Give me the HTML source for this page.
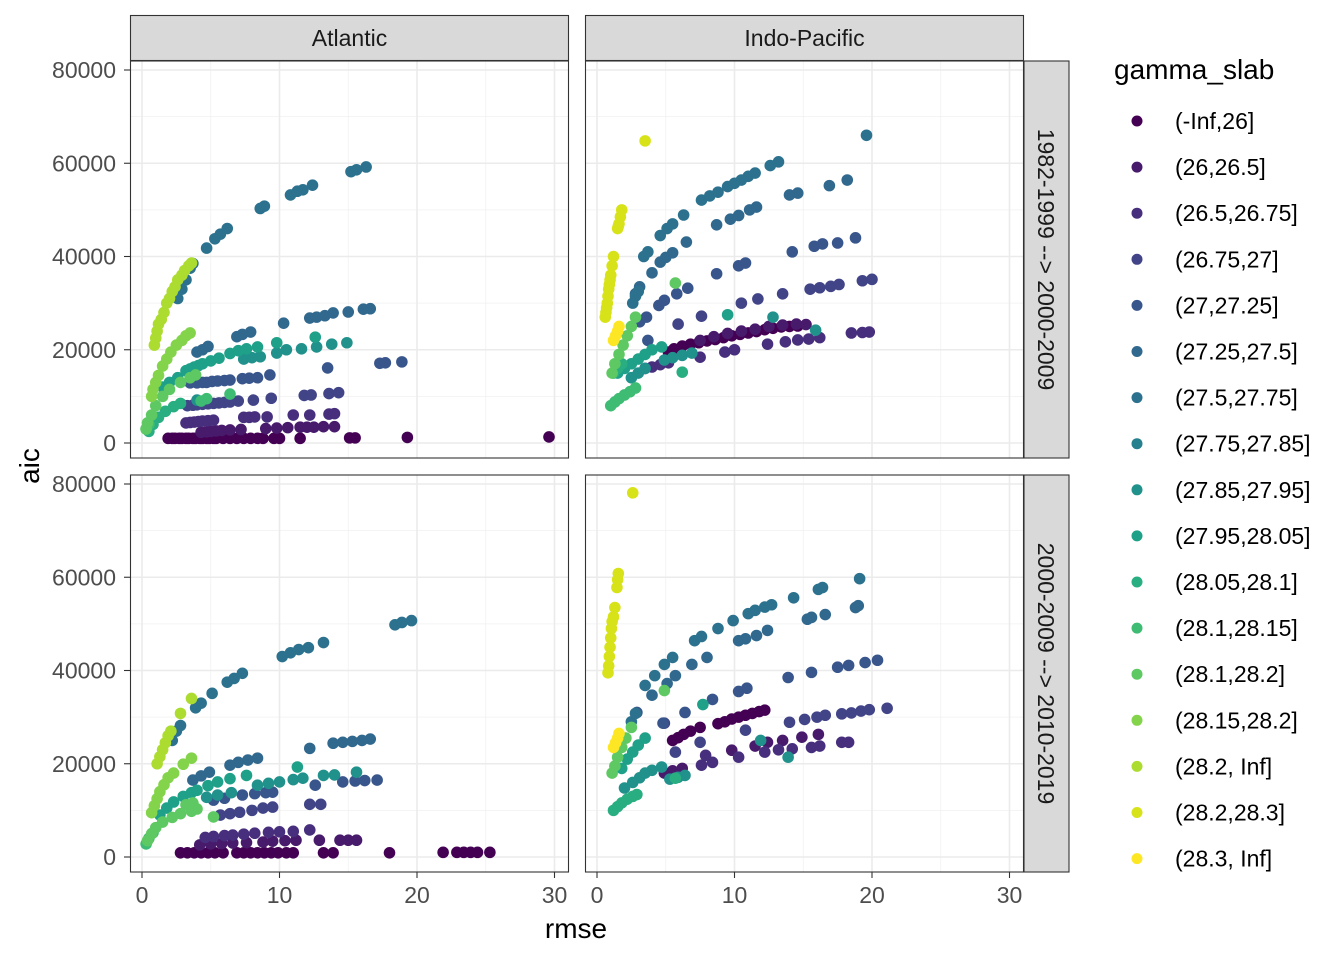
<!DOCTYPE html>
<html><head><meta charset="utf-8"><style>
html,body{margin:0;padding:0;background:#fff;}
svg{display:block;font-family:"Liberation Sans",Arial,sans-serif;}
</style></head><body>
<svg id="chart" width="1344" height="960" viewBox="0 0 1344 960" xmlns="http://www.w3.org/2000/svg">
<rect width="1344" height="960" fill="#fff"/>
<g id="panels"></g>
<g id="legend"></g>
<text x="576" y="938" text-anchor="middle" font-size="28" fill="#000">rmse</text>
<text transform="translate(39,466) rotate(-90)" text-anchor="middle" font-size="28" fill="#000">aic</text>
</svg>
<script>
const groupLabels = ["(-Inf,26]","(26,26.5]","(26.5,26.75]","(26.75,27]","(27,27.25]","(27.25,27.5]","(27.5,27.75]","(27.75,27.85]","(27.85,27.95]","(27.95,28.05]","(28.05,28.1]","(28.1,28.15]","(28.1,28.2]","(28.15,28.2]","(28.2, Inf]","(28.2,28.3]","(28.3, Inf]"];
const groupColors = ["#440154","#481A6C","#472F7D","#414487","#39568C","#31688E","#2C728E","#26808E","#21918C","#1FA088","#28AE80","#3FBC73","#5EC962","#84D44B","#ADDC30","#D8E219","#FDE725"];
const xTicks = [0,10,20,30];
const yTicks = [0,20000,40000,60000,80000];
const yTickLabels = ["0","20000","40000","60000","80000"];
const colFacets = ["Atlantic","Indo-Pacific"];
const rowFacets = ["1982-1999 --> 2000-2009","2000-2009 --> 2010-2019"];
// points: [rmse, aic in thousands]
const atl1 = [
[0,[[1.9,1],[2.2,1],[2.4,1],[2.7,1],[2.9,1],[3.2,1],[3.4,1],[3.7,1],[3.9,1],[4.2,1],[4.4,1],[4.7,1],[4.9,1],[5.2,1],[5.4,1],[5.9,1],[6.4,1],[6.9,1],[7.4,1],[7.9,1],[8.4,1],[8.8,1],[9.6,1],[10,1],[11.5,1],[15.1,1.1],[15.5,1.1],[19.3,1.2],[29.6,1.3]]],
[1,[[4.3,2.3],[4.7,2.4],[5,2.5],[5.4,2.6],[5.8,2.7],[6.4,2.8],[7.2,2.9],[9,3.1],[9.8,3.2],[10.6,3.3],[11.5,3.4],[12,3.4],[12.5,3.4],[13.2,3.5],[14,3.5]]],
[2,[[3.2,4.3],[3.5,4.4],[3.8,4.5],[4.1,4.6],[4.4,4.7],[4.8,4.8],[5.2,4.9],[7.4,5.5],[7.8,5.5],[8.2,5.6],[9.1,5.6],[11,6],[12.2,6],[13.6,6.2],[14,6.3]]],
[3,[[3.3,8],[3.7,8.1],[4,8.2],[4.4,8.3],[4.8,8.4],[5.2,8.5],[5.6,8.6],[6,8.7],[6.4,8.8],[7,9],[8.1,9.2],[9.4,9.6],[11.8,10.2],[12.3,10.3],[13.6,10.6],[14.3,10.8]]],
[4,[[3.5,12.9],[4,12.9],[4.4,13],[4.7,13],[5.1,13.2],[5.5,13.3],[6,13.4],[6.4,13.5],[7.3,13.8],[7.8,13.9],[8.4,14],[9.3,14.6],[13.5,16.1],[17.3,17.1],[17.7,17.2],[18.9,17.4]]],
[5,[[4,19.5],[4.4,20],[4.8,20.7],[6.9,22.8],[7.3,23.3],[7.9,23.8],[10.3,25.7],[12.2,26.8],[12.7,27],[13.3,27.3],[13.9,27.9],[15,28.1],[16.1,28.7],[16.6,28.8]]],
[6,[[2.6,31],[2.9,33],[3.2,35],[3.5,37.5],[3.7,38.5],[4.7,41.8],[5.3,43.8],[5.7,44.8],[6.2,46],[8.6,50.3],[8.9,50.8],[10.8,53.2],[11.3,54],[11.7,54.3],[12.4,55.3],[15.2,58.2],[15.6,58.6],[16.3,59.2]]],
[8,[[4,9.2],[7.4,18],[8,18.3],[8.6,18.5],[9.8,19.3],[10.5,20],[11.6,20.2],[12.7,20.6],[13.8,21.2],[14.9,21.5]]],
[9,[[1.5,12],[2,13],[2.6,14],[3.2,15.5],[3.5,15.9],[3.8,16.3],[4.1,16.6],[4.4,17],[5,17.6],[5.6,18.2],[6.4,19.2],[7,19.8],[7.6,20.2],[8.4,20.6],[9.8,21.5],[12.6,22.7]]],
[10,[[0.5,2.5],[0.8,4],[1.2,5.5],[1.7,6.8],[2.3,7.8],[2.8,8.5]]],
[11,[[0.3,3],[0.5,4],[4.3,9],[4.7,9.5],[6.4,10.5]]],
[12,[[0.3,3],[0.4,4.3],[0.7,6],[1,8],[1.5,10],[2,11.5],[2.8,13],[3.5,14],[3.9,14.6]]],
[13,[[0.7,10],[0.8,11.5],[1,13],[1.2,14.5],[1.5,16.5],[1.8,18],[2.1,19.5],[2.5,21],[2.9,22],[3.2,23],[3.5,23.6]]],
[14,[[0.9,21],[1,22.5],[1.1,24],[1.2,25.5],[1.4,26.5],[1.6,28],[1.8,30],[2,31],[2.2,32.5],[2.4,33.5],[2.6,35],[2.9,36],[3.1,37],[3.4,38],[3.6,38.6]]]
];
const ind1 = [
[0,[[5.2,19.5],[5.6,20.2],[6.2,20.8],[6.8,21.2],[7.4,21.5],[8,21.9],[8.6,22.2],[9.2,22.6],[9.8,23],[10.4,23.3],[11,23.6],[11.6,23.9],[12.2,24.3],[12.8,24.6],[13.4,24.9],[14,25],[14.6,25.1]]],
[1,[[7.5,22],[8.5,22.8],[9.5,23.5],[10.5,24],[11.5,24.4],[12.5,25],[13.5,25.3],[14.5,25.5],[15.2,25.4]]],
[2,[[3.5,16],[4,16.3],[4.6,16.8],[5.2,17.2],[7.5,18.4],[9.3,19.5],[10,20],[12.4,21.2],[13.7,21.7],[14.6,22.1],[15.4,22.3],[16.2,22.6],[18.5,23.6],[19.3,23.7],[19.8,23.8]]],
[3,[[5.9,25.5],[7.6,27.2],[10.5,30],[11.7,30.9],[13.5,32],[15.5,33],[16.2,33.3],[17,33.6],[17.6,34],[19.3,34.8],[20,35.1]]],
[4,[[3.7,22],[3.1,26],[3.6,27],[4.5,29.5],[4.9,30.6],[5.8,32],[6.6,33.2],[8.7,36.3],[10.3,38],[10.8,38.6],[14.2,41],[15.8,42.2],[16.4,42.7],[17.5,42.9],[18.8,44]]],
[5,[[2.8,32],[3.1,33.5],[4,36.5],[4.6,38.8],[5,39.8],[5.5,40.8],[6.5,43.1],[8.7,46.8],[9.7,48],[10.3,48.8],[11.1,50],[11.6,50.6],[14,53.2],[14.6,53.6],[16.9,55.2],[18.2,56.4]]],
[6,[[2.6,30],[2.8,31.5],[3,32.5],[3.4,40],[3.7,41],[4.6,44.5],[5.1,46],[5.5,47],[6.3,48.9],[7.6,52.1],[8.2,53],[8.8,53.8],[9.5,55],[10,55.7],[10.5,56.4],[11,57.2],[11.5,57.9],[12.6,59.5],[13.2,60.3],[19.6,66]]],
[8,[[2.5,14],[3,15],[3.5,16],[4.9,17.8],[5.5,18.3],[6.2,18.8],[6.9,19.3],[12.8,27],[15.9,24.2]]],
[9,[[1.5,15],[2,16],[2.5,17],[3,18],[3.5,19],[4,20],[4.7,20.6],[9.5,27.5]]],
[10,[[1.2,15],[1.5,16],[1.8,17],[6.2,15.2]]],
[11,[[1,8],[1.3,8.8],[1.6,9.5],[2,10.3],[2.4,11],[2.8,11.8]]],
[12,[[1.1,15],[1.3,17],[1.6,19],[1.9,21],[2.2,23],[2.5,25],[2.8,27],[5.7,34.3]]],
[15,[[0.6,27],[0.65,28],[0.7,29],[0.75,30],[0.8,31.5],[0.85,33],[0.9,34],[0.95,35],[1,36],[1.1,38],[1.2,40],[1.5,46],[1.55,46.5],[1.6,47],[1.7,48.5],[1.8,50],[3.5,64.8]]],
[16,[[1.2,22],[1.35,23],[1.5,24],[1.6,25]]]
];
const atl2 = [
[0,[[2.8,0.9],[3.3,0.9],[3.8,0.9],[4.3,0.9],[4.8,0.9],[5.3,0.9],[5.9,0.9],[6.9,0.9],[7.4,0.9],[7.9,0.9],[8.4,0.9],[8.9,0.9],[9.4,0.9],[9.9,0.9],[10.5,0.9],[11,0.9],[13.2,0.9],[13.9,0.9],[18,0.9],[21.9,1],[22.9,1],[23.4,1],[23.9,1],[24.4,1],[25.3,1]]],
[1,[[4.2,2.6],[5,2.8],[5.8,2.9],[6.6,3],[7.6,3.1],[8.8,3.2],[9.5,3.4],[10.4,3.5],[11.2,3.6],[12.9,3.6],[14.4,3.6],[15,3.6],[15.6,3.6]]],
[2,[[4.6,4.2],[5.2,4.4],[6,4.6],[6.6,4.7],[7.4,4.9],[8.2,5.1],[9.2,5.3],[10,5.4],[11,5.5],[12.2,5.8]]],
[3,[[5.7,9],[6.4,9.3],[7.1,9.6],[8,10],[8.8,10.5],[9.5,10.7],[12.2,11.3],[13,11.3]]],
[4,[[5.2,12.2],[6,12.6],[7.3,13.3],[8.2,13.6],[9,13.8],[9.5,13.9],[12.6,15.4],[14.6,16.1],[15.5,16.3],[16.2,16.4],[17.1,16.5]]],
[5,[[3.7,16.5],[4.3,17.4],[4.9,18.2],[6.4,19.7],[7,20.3],[7.7,20.8],[8.4,21.2],[12.2,23.3],[13.9,24.4],[14.6,24.6],[15.3,24.8],[16,25],[16.6,25.3]]],
[6,[[2.2,25],[2.5,27],[2.8,28.2],[3.9,32],[4.3,33],[5.1,35.1],[6.2,37.5],[6.7,38.3],[7.3,39.4],[10.2,43],[10.8,43.8],[11.4,44.5],[12.1,44.9],[13.2,46],[18.4,49.8],[18.9,50.3],[19.6,50.7]]],
[8,[[4.7,12.8],[5.5,13.3],[6.5,13.8],[8.4,15.4],[9.2,15.8],[10,16.1],[11,16.6],[11.7,16.9],[13.2,17.5],[14,17.6],[15.6,18.2]]],
[9,[[1.3,9],[1.8,10.5],[2.3,11.8],[3,13],[3.6,13.8],[4,14.3],[4.8,15.3],[5.5,16.1],[6.4,16.8],[7.6,17.5],[11.3,19.3]]],
[11,[[0.3,2.8],[0.5,4],[0.8,5.2]]],
[12,[[0.4,3.5],[0.7,5],[1,6.3],[1.5,7.5],[2.2,8.5],[2.8,9.3],[3.6,9.8],[4,10.3],[5.2,8.6],[3.2,11.2],[3.7,11.6]]],
[13,[[0.7,9.5],[0.9,11],[1.1,12.5],[1.3,14],[1.6,15.5],[1.9,17],[2.3,18],[3,19.9],[3.6,21.2]]],
[14,[[1.1,20],[1.3,21.5],[1.5,23],[1.7,24.5],[1.9,26],[2.1,27],[2.8,30.8],[3.6,34]]]
];
const ind2 = [
[0,[[5.5,25],[5.9,25.6],[6.3,26.3],[6.8,27],[7.5,27.8],[8.8,28.6],[9.3,29],[9.8,29.6],[10.3,30],[10.8,30.4],[11.3,30.8],[11.8,31.2],[12.2,31.5]]],
[1,[[4.9,18],[5.5,18.5],[6.2,19],[9.8,22.9],[11.5,23.8],[12.4,24.6],[13.5,25],[14.9,25.7],[16.1,26.3]]],
[2,[[7.6,19.7],[8.4,20.3],[7.9,21.8],[10.3,21.4],[12.2,22.5],[13.2,23],[14.2,23.2],[15.6,23.5],[16.2,23.8],[17.8,24.6],[18.3,24.6]]],
[3,[[4.9,28.7],[5.7,22.5],[7.5,24.6],[10.8,27.2],[14,28.9],[15.1,29.5],[16,30],[16.6,30.4],[17.8,30.7],[18.5,30.9],[19.2,31.3],[19.8,31.6],[21.1,31.9]]],
[4,[[2.9,31],[4.8,28.7],[6.4,31],[8.4,33.8],[10.3,35.5],[10.9,36.2],[13.9,38.5],[15.6,39.6],[17.5,40.7],[18.3,41.1],[19.5,41.7],[20.4,42.2]]],
[5,[[4,34.7],[5.1,37.2],[5.7,38.9],[6.9,41.3],[8,42.8],[10.3,46.4],[10.8,46.8],[11.6,47.5],[12.4,48.6],[15.3,51],[15.6,51.4],[16.6,52],[18.8,53.5],[19,53.9]]],
[6,[[2.5,29],[2.8,30.8],[3.5,36.8],[4.2,38.9],[4.9,41.3],[5.5,42.8],[7.1,46.4],[7.6,47.3],[8.8,49],[9.9,50.7],[11,52.2],[11.5,52.9],[12.2,53.6],[12.7,54.1],[14.3,55.6],[16.1,57.4],[16.4,57.8],[19.1,59.7]]],
[8,[[2,14.8],[2.6,16],[3.1,17],[3.5,18],[4,18.6],[4.7,19.3],[5.3,16.7],[5.9,17.1],[6.4,17.5],[11.9,25],[13.9,21.4]]],
[9,[[1.8,19],[2.2,21],[2.6,22.5],[3,24],[3.5,25.5],[7.7,32.7]]],
[10,[[1.2,10],[1.5,10.8],[1.8,11.6],[2.2,12.4],[2.6,13],[2.9,13.4],[5.7,16.9]]],
[12,[[1.1,18],[1.3,19.5],[1.5,21.4],[1.8,23.5],[2.1,25.5],[2.5,27.8],[4.9,35.7]]],
[15,[[0.8,39.5],[0.85,41],[0.9,43],[0.95,45],[1,47],[1.05,49],[1.1,50.5],[1.2,51.5],[1.3,53.5],[1.45,57.8],[1.5,59.5],[1.55,60.8],[2.6,78.1]]],
[16,[[1.2,23.5],[1.35,24.5],[1.5,25.5],[1.6,26.5]]]
];
const panelData = [[atl1, ind1],[atl2, ind2]];

const NS = "http://www.w3.org/2000/svg";
function mk(tag, attrs, parent){const e=document.createElementNS(NS,tag);for(const k in attrs)e.setAttribute(k,attrs[k]);if(parent)parent.appendChild(e);return e;}
const panelsG = document.getElementById('panels');
const colX = [130.5, 585.5], panelW = 438;
const rowY = [61, 475], panelH = 397;
function xScale(col, v){ return colX[col] + 11.5 + v*13.75; }
function yScale(row, vk){ return rowY[row] + 382 - vk*1000*373/80000; }

for (let r=0;r<2;r++){
  for (let c=0;c<2;c++){
    const g = mk('g',{},panelsG);
    
    
    const x0=colX[c], y0=rowY[r];
    mk('rect',{x:x0,y:y0,width:panelW,height:panelH,fill:'#fff'},g);
    [5,15,25].forEach(v=>mk('line',{x1:xScale(c,v),x2:xScale(c,v),y1:y0,y2:y0+panelH,stroke:'#f0f0f0','stroke-width':0.8},g));
    [10,30,50,70].forEach(v=>mk('line',{x1:x0,x2:x0+panelW,y1:yScale(r,v),y2:yScale(r,v),stroke:'#f0f0f0','stroke-width':0.8},g));
    xTicks.forEach(v=>mk('line',{x1:xScale(c,v),x2:xScale(c,v),y1:y0,y2:y0+panelH,stroke:'#ebebeb','stroke-width':1.6},g));
    yTicks.forEach(v=>mk('line',{x1:x0,x2:x0+panelW,y1:yScale(r,v/1000),y2:yScale(r,v/1000),stroke:'#ebebeb','stroke-width':1.6},g));
    panelData[r][c].forEach(([gi, pts])=>{
      pts.forEach(p=>{
        const ci = mk('circle',{cx:xScale(c,p[0]),cy:yScale(r,p[1]),r:5.8,fill:groupColors[gi]},g);
        
        
      });
    });
    mk('rect',{x:x0,y:y0,width:panelW,height:panelH,fill:'none',stroke:'#333','stroke-width':1.1},g);
  }
}
colFacets.forEach((name,c)=>{
  const s = mk('g',{},panelsG);
  
  
  mk('rect',{x:colX[c],y:15.5,width:panelW,height:45,fill:'#d9d9d9',stroke:'#333','stroke-width':1.1},s);
  const t = mk('text',{x:colX[c]+panelW/2,y:46,'text-anchor':'middle','font-size':23,fill:'#1a1a1a'},s);
  t.textContent = name;
});
rowFacets.forEach((name,r)=>{
  const s = mk('g',{},panelsG);
  
  
  mk('rect',{x:1024,y:rowY[r],width:45,height:panelH,fill:'#d9d9d9',stroke:'#333','stroke-width':1.1},s);
  const cy = rowY[r]+panelH/2;
  const t = mk('text',{transform:`translate(1038,${cy}) rotate(90)`,'text-anchor':'middle','font-size':23,fill:'#1a1a1a'},s);
  t.textContent = name;
});
for (let r=0;r<2;r++){
  yTicks.forEach((v,i)=>{
    const y = yScale(r,v/1000);
    mk('line',{x1:124,x2:130,y1:y,y2:y,stroke:'#333','stroke-width':1.1},panelsG);
    const t = mk('text',{x:116,y:y+8,'text-anchor':'end','font-size':23,fill:'#4d4d4d'},panelsG);
    
    
    t.textContent = yTickLabels[i];
  });
}
for (let c=0;c<2;c++){
  xTicks.forEach(v=>{
    const x = xScale(c,v);
    mk('line',{x1:x,x2:x,y1:872,y2:878,stroke:'#333','stroke-width':1.1},panelsG);
    const t = mk('text',{x:x,y:903,'text-anchor':'middle','font-size':23,fill:'#4d4d4d'},panelsG);
    
    
    t.textContent = String(v);
  });
}
const lg = document.getElementById('legend');
const lt = mk('text',{x:1114,y:79,'font-size':28,fill:'#000'},lg);
lt.textContent = 'gamma_slab';
groupLabels.forEach((lab,i)=>{
  const y = 121 + i*46.1;
  const e = mk('g',{},lg);
  
  
  mk('circle',{cx:1137,cy:y,r:5.5,fill:groupColors[i]},e);
  const t = mk('text',{x:1175,y:y+8,'font-size':23,fill:'#000'},e);
  t.textContent = lab;
});
</script>
</body></html>
